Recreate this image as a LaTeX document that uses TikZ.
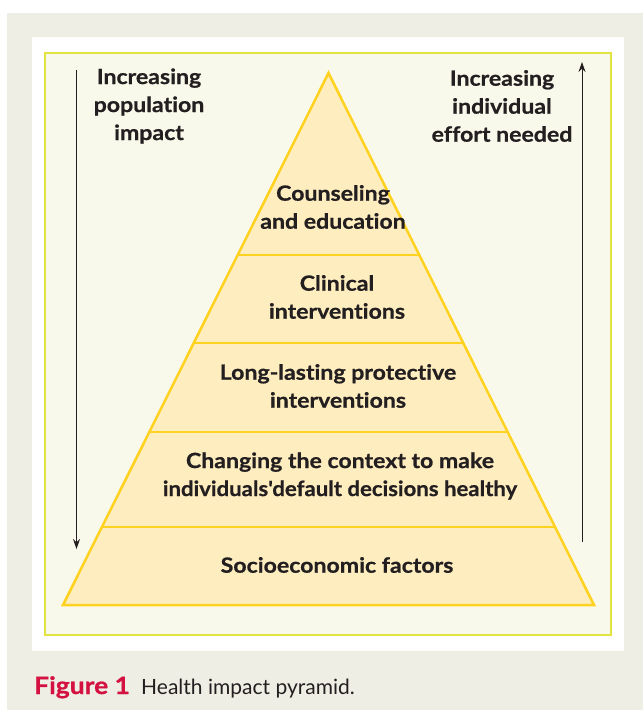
\documentclass[tikz,border=0pt]{standalone}
\usepackage{fontspec}
\usepackage{graphicx}
\setmainfont{Lato}[Ligatures={NoCommon}]
\newfontfamily\lblfont{Lato}[FakeStretch=1.1, FakeBold=0.7, Ligatures={NoCommon}]
\usetikzlibrary{arrows.meta}
\definecolor{bggray}{HTML}{EFEEE4}
\definecolor{panel}{HTML}{F9F9EB}
\definecolor{panelline}{HTML}{E3E340}
\definecolor{pyrfill}{HTML}{FEEDBF}
\definecolor{pyrline}{HTML}{FFD21F}
\definecolor{textdark}{HTML}{231F20}
\definecolor{figred}{HTML}{D41241}
\begin{document}
\begin{tikzpicture}[x=1pt,y=-1pt,
  lbl/.style={font=\lblfont\bfseries\fontsize{21}{28}\selectfont, text=textdark, align=center, inner sep=0pt},
  layer/.style={draw=pyrline, line width=2.5pt, line join=miter, line cap=butt},
  arr/.style={-{Stealth[length=10pt,width=7pt]}, line width=0.9pt, draw=textdark}]
\useasboundingbox (0,0) rectangle (643,710);
\fill[white] (0,0) rectangle (643,710);
\fill[bggray] (7,13) rectangle (643,710);
\fill[white] (32,37) rectangle (624,651);
\draw[fill=panel, draw=panelline, line width=1.2pt] (45,53) rectangle (611,635);
% pyramid
\coordinate (apex) at (328.5,73);
\coordinate (bl) at (63,605);
\coordinate (br) at (594,605);
\coordinate (d1l) at (237.7,255); \coordinate (d1r) at (419.3,255);
\coordinate (d2l) at (193.75,343); \coordinate (d2r) at (463.25,343);
\coordinate (d3l) at (149.3,432); \coordinate (d3r) at (507.7,432);
\coordinate (d4l) at (101.9,527); \coordinate (d4r) at (555.1,527);
\fill[pyrfill] (apex) -- (br) -- (bl) -- cycle;
\draw[layer] (d1l) -- (d1r);
\draw[layer] (d2l) -- (d2r);
\draw[layer] (d3l) -- (d3r);
\draw[layer] (d4l) -- (d4r);
\draw[layer] (apex) -- (br) -- (bl) -- cycle;
% arrows
\coordinate (la1) at (76.5,70);
\coordinate (la2) at (76.5,549);
\coordinate (ra1) at (582,542);
\coordinate (ra2) at (582,62);
\draw[arr] (la1) -- (la2);
\draw[arr] (ra1) -- (ra2);
% labels
\node[lbl] (popimpact) at (149,106) {Increasing\\population\\impact};
\node[lbl] (effort) at (502,106) {Increasing\\individual\\effort needed};
\node[lbl] (counsel) at (333,207) {Counseling\\and education};
\node[lbl] (clinical) at (337,297) {Clinical\\interventions};
\node[lbl] (longlast) at (338,386) {Long-lasting protective\\interventions};
\node[lbl] (context) at (340,476) {Changing the context to make\\\scalebox{0.96}[1]{individuals'default decisions healthy}};
\node[lbl] (socio) at (337,565) {Socioeconomic factors};
% caption
\node[anchor=base west, inner sep=0pt, text=figred, font=\lblfont\bfseries\fontsize{24}{28}\selectfont] (figlbl) at (34,694) {Figure 1};
\node[anchor=base west, inner sep=0pt, text=textdark, font=\fontsize{21}{26}\selectfont] (captxt) at (141,694) {Health impact pyramid.};
\end{tikzpicture}
\end{document}
